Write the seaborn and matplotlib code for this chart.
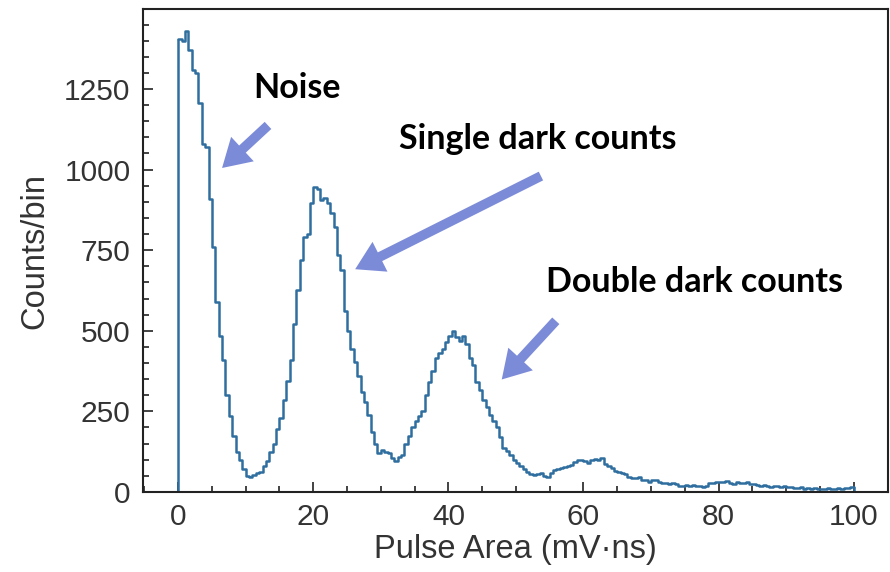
import numpy as np
import pandas as pd
import matplotlib
matplotlib.use("Agg")
import matplotlib.pyplot as plt
import seaborn as sns
from matplotlib.ticker import MultipleLocator

# counts per 0.5 mV*ns bin (0 .. 100)
counts_0_10 = [1405, 1400, 1430, 1370, 1310, 1300, 1205, 1080, 1070, 910,
               760, 590, 485, 410, 300, 235, 175, 125, 100, 70]
counts_10_20 = [50, 48, 52, 58, 62, 80, 95, 125, 150, 195,
                230, 285, 345, 410, 520, 625, 720, 790, 800, 895]
counts_20_30 = [945, 940, 905, 912, 895, 865, 823, 735, 690, 560,
                500, 445, 404, 360, 310, 278, 240, 185, 150, 120]
counts_30_40 = [130, 125, 120, 105, 95, 110, 116, 150, 175, 200,
                220, 235, 250, 300, 340, 375, 415, 430, 445, 465]
counts_40_50 = [485, 498, 480, 468, 485, 460, 415, 395, 340, 315,
                285, 265, 240, 220, 200, 170, 135, 127, 115, 100]
counts_50_60 = [90, 80, 70, 62, 55, 53, 55, 58, 50, 48,
                58, 68, 70, 75, 78, 80, 85, 92, 100, 98]
counts_60_70 = [95, 90, 100, 102, 100, 105, 86, 80, 74, 65,
                62, 58, 55, 48, 44, 42, 45, 38, 36, 32]
counts_70_80 = [38, 36, 30, 29, 28, 26, 27, 24, 18, 17,
                22, 20, 23, 17, 18, 15, 20, 27, 28, 30]
counts_80_90 = [32, 30, 33, 28, 25, 30, 28, 27, 30, 26,
                24, 22, 20, 22, 18, 16, 20, 17, 15, 18]
counts_90_100 = [14, 16, 13, 12, 15, 10, 11, 9, 12, 8,
                 10, 9, 11, 8, 10, 12, 9, 11, 13, 15]

counts = np.array(counts_0_10 + counts_10_20 + counts_20_30 + counts_30_40 +
                  counts_40_50 + counts_50_60 + counts_60_70 + counts_70_80 +
                  counts_80_90 + counts_90_100, dtype=float)
bin_width = 0.5
edges = np.arange(len(counts) + 1) * bin_width
centers = edges[:-1] + bin_width / 2
df = pd.DataFrame({"area": centers, "count": counts})

line_color = "#2f6e9e"
arrow_color = "#7b8bd8"

sns.set_style("ticks")
plt.rcParams["font.family"] = ["Liberation Sans", "DejaVu Sans"]

fig = plt.figure(figsize=(8.9, 5.72), dpi=100)
ax = fig.add_axes([0.1607, 0.1399, 0.8365, 0.8443])

sns.histplot(data=df, x="area", weights="count", binwidth=bin_width,
             binrange=(edges[0], edges[-1]), element="step",
             fill=False, color=line_color, linewidth=1.8, ax=ax)
# closing edges of the histogram outline
ax.vlines([edges[0], edges[-1]], 0, [counts[0], counts[-1]],
          color=line_color, linewidth=1.8)

ax.set_xlim(-5.2, 105)
ax.set_ylim(0, 1498)
ax.xaxis.set_major_locator(MultipleLocator(20))
ax.xaxis.set_minor_locator(MultipleLocator(5))
ax.yaxis.set_major_locator(MultipleLocator(250))
ax.yaxis.set_minor_locator(MultipleLocator(50))
ax.tick_params(which="both", direction="in", colors="#222222", width=1.2,
               labelsize=21.5, labelcolor="#333333", top=False, right=False)
ax.tick_params(which="major", length=7)
ax.tick_params(axis="x", which="major", pad=8)
ax.tick_params(axis="y", which="major", pad=9)
ax.tick_params(which="minor", length=4)
for s in ax.spines.values():
    s.set_color("#222222")
    s.set_linewidth(1.5)

ax.set_xlabel("Pulse Area (mV·ns)", fontsize=23.5, color="#333333", labelpad=2)
ax.set_ylabel("Counts/bin", fontsize=23.5, color="#333333", labelpad=10)

txt = dict(fontsize=24.5, fontweight="bold", family=["Lato", "DejaVu Sans"],
           color="black", ha="center", va="center")
ax.text(17.6, 1253, "Noise", **txt)
ax.text(53.3, 1096, "Single dark counts", **txt)
ax.text(76.5, 650, "Double dark counts", **txt)

arrow = dict(facecolor=arrow_color, edgecolor="none", width=7,
             headwidth=24, headlength=20, shrink=0)
ax.annotate("", xy=(6.5, 1005), xytext=(13.3, 1137), arrowprops=arrow)
ax.annotate("", xy=(26.2, 691), xytext=(53.7, 980), arrowprops=arrow)
ax.annotate("", xy=(47.9, 349), xytext=(55.9, 531), arrowprops=arrow)

fig.savefig("out.png", dpi=100)
